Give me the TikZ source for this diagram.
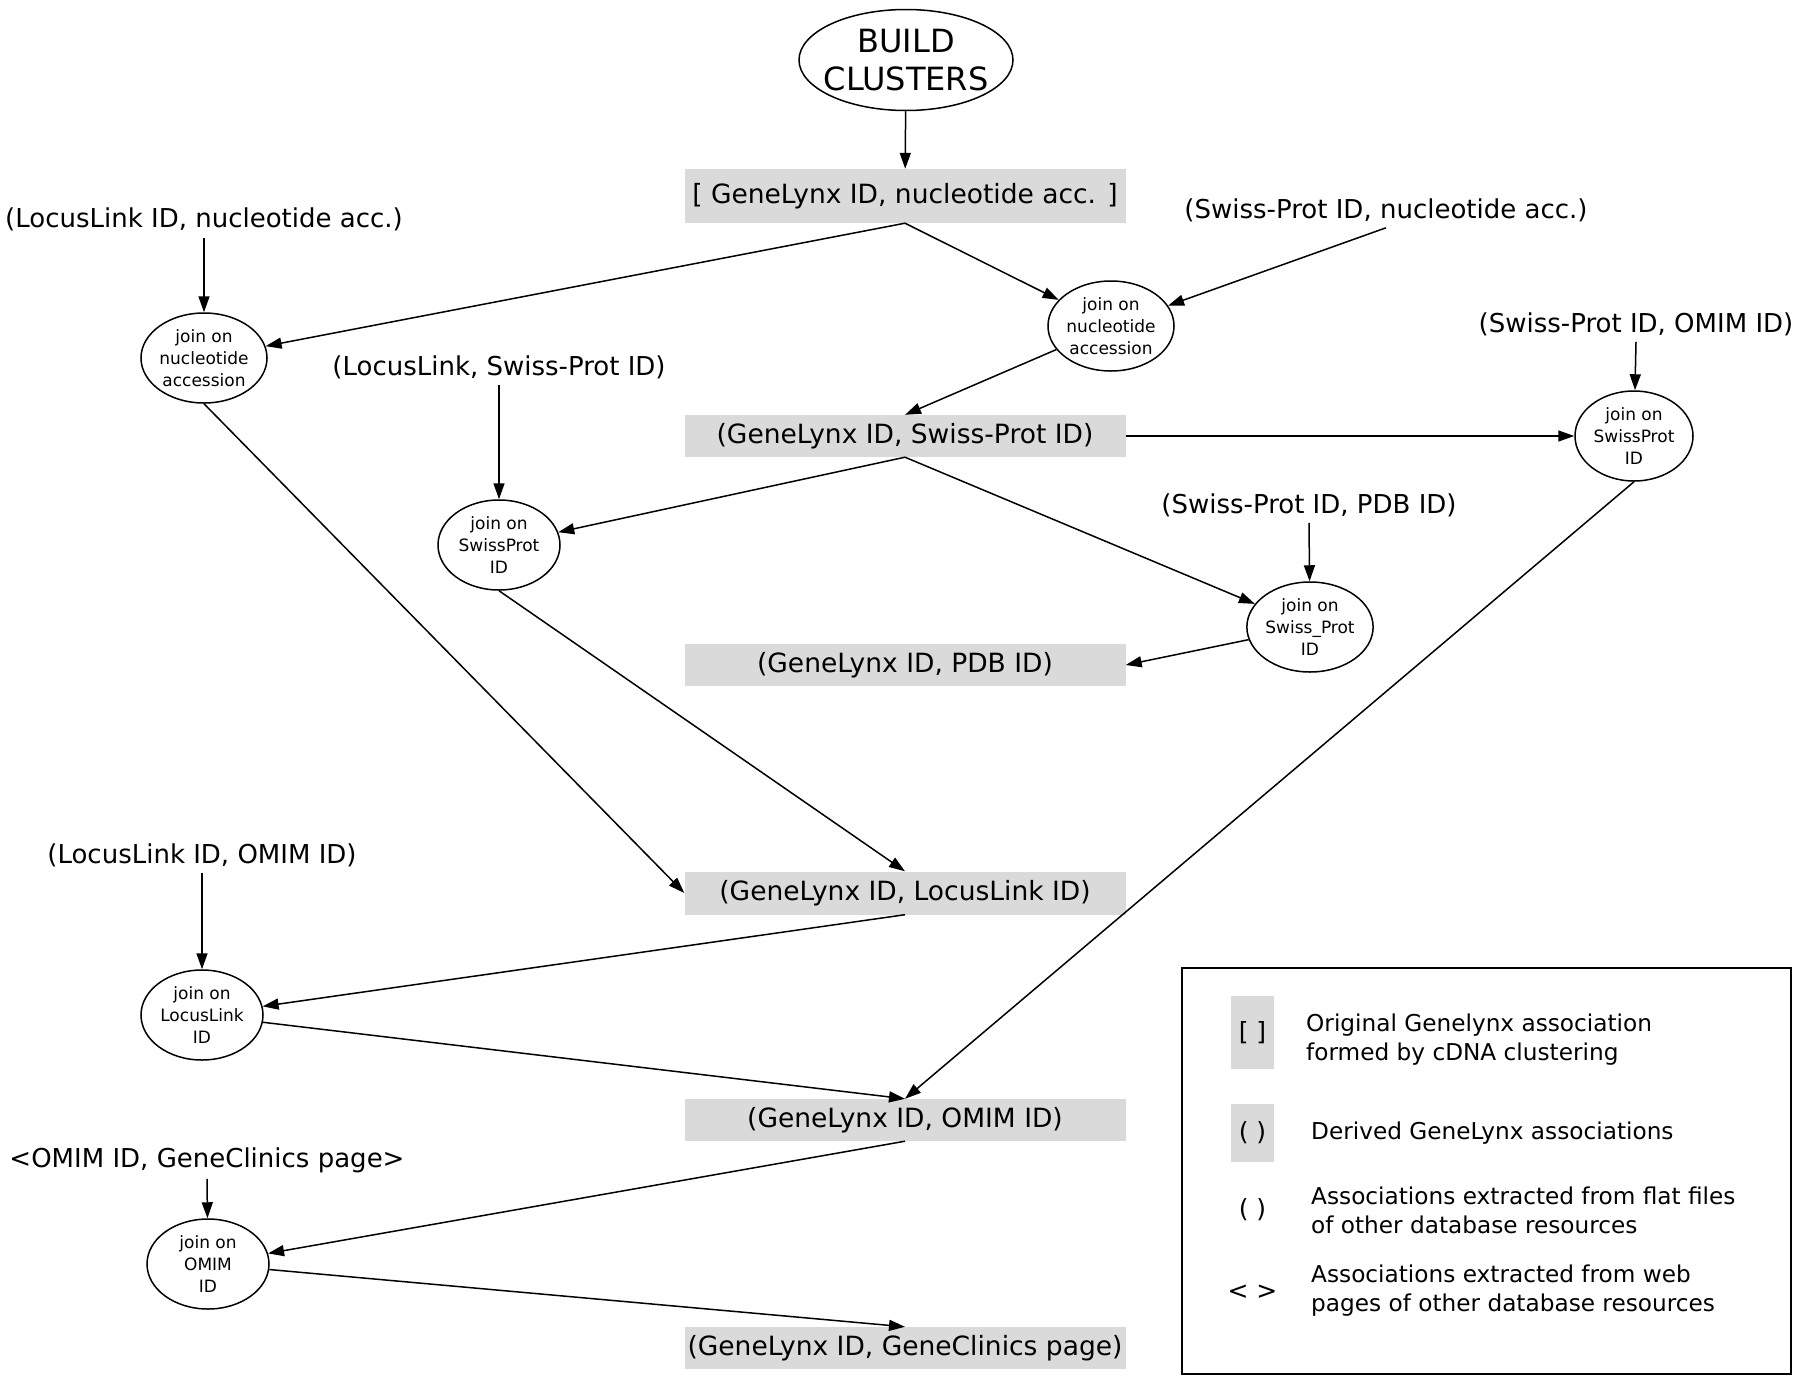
\documentclass[tikz,border=0pt]{standalone}
\usepackage{fontspec}
\setmainfont{DejaVu Sans}
\usetikzlibrary{shapes.geometric,arrows.meta}
\definecolor{boxgray}{RGB}{218,218,218}
\begin{document}
\begin{tikzpicture}[x=1pt,y=-1pt,
  arr/.style={line width=1.5pt,-{Triangle[length=16pt,width=11pt]}},
  gbox/.style={fill=boxgray,minimum width=441pt,inner sep=0pt,font=\fontsize{26.5}{30}\selectfont},
  lbl/.style={inner sep=1pt,font=\fontsize{26}{30}\selectfont},
  joinel/.style={ellipse,draw,line width=1.5pt,minimum width=122pt,minimum height=90pt,inner sep=0pt,align=center,font=\fontsize{17}{22}\selectfont},
  legt/.style={anchor=west,align=left,inner sep=0pt,font=\fontsize{23.2}{29}\selectfont},
  legs/.style={inner sep=0pt,font=\fontsize{25}{30}\selectfont}]
\useasboundingbox (0,0) rectangle (1800,1379);
\fill[white] (0,0) rectangle (1800,1379);

% main nodes
\node[ellipse,draw,line width=1.5pt,minimum width=214pt,minimum height=101pt,inner xsep=-10pt,inner ysep=0pt,align=center,font=\fontsize{32}{38}\selectfont] (bc) at (906,60) {BUILD\\CLUSTERS};
\node[gbox,minimum height=54pt] (b1) at (905,196) {[ GeneLynx ID, nucleotide acc. ]};
\node[gbox,minimum height=42pt] (b2) at (905,436) {(GeneLynx ID, Swiss-Prot ID)};
\node[gbox,minimum height=42pt] (b3) at (905,665) {(GeneLynx ID, PDB ID)};
\node[gbox,minimum height=43pt] (b4) at (905,893) {(GeneLynx ID, LocusLink ID)};
\node[gbox,minimum height=42pt] (b5) at (905,1120) {(GeneLynx ID, OMIM ID)};
\node[gbox,minimum height=42pt] (b6) at (905,1348) {(GeneLynx ID, GeneClinics page)};

\node[joinel] (e1) at (204,358) {join on\\nucleotide\\accession};
\node[joinel] (e2) at (1111,326) {join on\\nucleotide\\accession};
\node[joinel,minimum width=118pt] (e3) at (1634,436) {join on\\SwissProt\\ID};
\node[joinel] (e4) at (499,545) {join on\\SwissProt\\ID};
\node[joinel] (e5) at (1310,627) {join on\\Swiss\_Prot\\ID};
\node[joinel] (e6) at (202,1015) {join on\\LocusLink\\ID};
\node[joinel] (e7) at (208,1264) {join on\\OMIM\\ID};

\node[lbl] (t1) at (204,219) {(LocusLink ID, nucleotide acc.)};
\node[lbl] (t2) at (1386,210) {(Swiss-Prot ID, nucleotide acc.)};
\node[lbl] (t3) at (1636,324) {(Swiss-Prot ID, OMIM ID)};
\node[lbl] (t4) at (499,367) {(LocusLink, Swiss-Prot ID)};
\node[lbl] (t5) at (1309,505) {(Swiss-Prot ID, PDB ID)};
\node[lbl] (t6) at (202,855) {(LocusLink ID, OMIM ID)};
\node[lbl] (t7) at (207,1160) {<OMIM ID, GeneClinics page>};

% connectors
\draw[arr] (bc) -- (b1);
\draw[arr] (b1.south) -- (e1);
\draw[arr] (b1.south) -- (e2);
\draw[arr] ([yshift=-6pt]t1.south) -- (e1);
\draw[arr] ([yshift=-5pt]t2.south) -- (e2);
\draw[arr] ([yshift=-5pt]t3.south) -- (e3);
\draw[arr] (e2) -- (b2.north);
\draw[arr] (b2.east) -- (e3);
\draw[arr] ([yshift=-5pt]t4.south) -- (e4);
\draw[arr] (b2.south) -- (e4);
\draw[arr] (b2.south) -- (e5);
\draw[arr] ([yshift=-5pt]t5.south) -- (e5);
\draw[arr] (e5) -- (b3.east);
\draw[arr] (e1.south) -- (b4.west);
\draw[arr] (e4.south) -- (b4.north);
\draw[arr] ([yshift=-5pt]t6.south) -- (e6);
\draw[arr] (b4.south) -- (e6);
\draw[arr] (e6) -- (b5.north);
\draw[arr] (e3.south) -- (b5.north);
\draw[arr] ([yshift=-5pt]t7.south) -- (e7);
\draw[arr] (b5.south) -- (e7);
\draw[arr] (e7) -- (b6.north);

% legend
\node[draw,line width=2pt,minimum width=609pt,minimum height=406pt,inner sep=0pt] (leg) at (1486.5,1171) {};
\node[legs,fill=boxgray,minimum width=43pt,minimum height=73pt] (s1) at (1252.5,1032.5) {[ ]};
\node[legs,fill=boxgray,minimum width=43pt,minimum height=58pt] (s2) at (1252.5,1133) {( )};
\node[legs] (s3) at (1252.5,1210) {( )};
\node[legs] (s4) at (1252.5,1292) {< >};
\node[legt] (l1) at (1306,1040) {Original Genelynx association\\formed by cDNA clustering};
\node[legt] (l2) at (1311,1133) {Derived GeneLynx associations};
\node[legt] (l3) at (1311,1210) {Associations extracted from flat files\\of other database resources};
\node[legt] (l4) at (1311,1291) {Associations extracted from web\\pages of other database resources};
\end{tikzpicture}
\end{document}
